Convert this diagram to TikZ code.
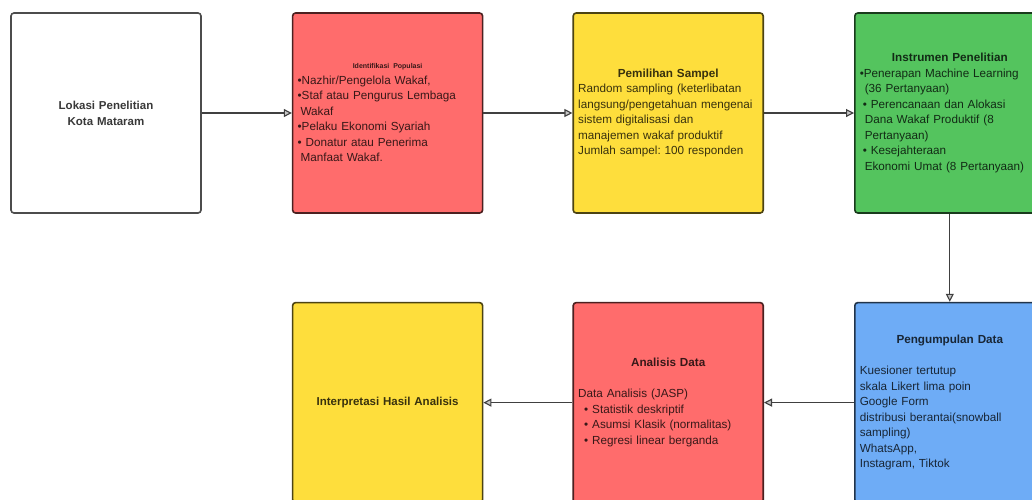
\documentclass[tikz,border=0pt]{standalone}
\usepackage{fontspec}
\setmainfont{Liberation Sans}
\usetikzlibrary{positioning,arrows.meta}

\definecolor{boxred}{RGB}{255,108,108}
\definecolor{boxyellow}{RGB}{254,222,60}
\definecolor{boxgreen}{RGB}{84,196,94}
\definecolor{boxblue}{RGB}{110,172,246}
\newcommand{\boxhead}[1]{\makebox[\linewidth]{\bfseries #1}}
\frenchspacing

\begin{document}
\begin{tikzpicture}[x=1pt,y=1pt,
  stage/.style={draw=#1!30!black,fill=#1,line width=1.6pt,rounded corners=3pt,
    minimum height=200pt,inner xsep=5pt,inner ysep=0pt,text width=180pt,
    align=left,text=#1!22!black,font=\fontsize{11.7}{15.5}\selectfont},
  flow/.style={draw=gray!50!black,line width=1.1pt,
    -{Triangle[open,length=8pt,width=8pt,fill=gray!45]}}]
  \fill[white] (0,0) rectangle (1032,-499);
  \useasboundingbox (0,0) rectangle (1032,-499);

  \node[stage=white,align=center,font=\fontsize{11.5}{16}\selectfont\bfseries]
    (lokasi) at (106,-113) {Lokasi Penelitian\\Kota Mataram};
  \node[stage=boxred,right=90pt of lokasi] (populasi)
    {\makebox[\linewidth]{\fontsize{7}{9}\selectfont\bfseries Identifikasi Populasi}\\
     •Nazhir/Pengelola Wakaf,\\
     •Staf atau Pengurus Lembaga\\
     \hspace*{3pt}Wakaf\\
     •Pelaku Ekonomi Syariah\\
     • Donatur atau Penerima\\
     \hspace*{3pt}Manfaat Wakaf.};
  \node[stage=boxyellow,right=89pt of populasi] (sampel)
    {\boxhead{Pemilihan Sampel}\\
     Random sampling (keterlibatan\\
     langsung/pengetahuan mengenai\\
     sistem digitalisasi dan\\
     manajemen wakaf produktif\\
     Jumlah sampel: 100 responden};
  \node[stage=boxgreen,right=90pt of sampel] (instrumen)
    {\boxhead{Instrumen Penelitian}\\
     •Penerapan Machine Learning\\
     \hspace*{5pt}(36 Pertanyaan)\\
     \hspace*{3pt}• Perencanaan dan Alokasi\\
     \hspace*{5pt}Dana Wakaf Produktif (8\\
     \hspace*{5pt}Pertanyaan)\\
     \hspace*{3pt}• Kesejahteraan\\
     \hspace*{5pt}Ekonomi Umat (8 Pertanyaan)};

  \node[stage=boxblue,below=88pt of instrumen] (pengumpulan)
    {\boxhead{Pengumpulan Data}\\[15.5pt]
     Kuesioner tertutup\\
     skala Likert lima poin\\
     Google Form\\
     distribusi berantai(snowball\\
     sampling)\\
     WhatsApp,\\
     Instagram, Tiktok};
  \node[stage=boxred,left=90pt of pengumpulan] (analisis)
    {\boxhead{Analisis Data}\\[15.5pt]
     Data Analisis (JASP)\\
     \hspace*{6pt}• Statistik deskriptif\\
     \hspace*{6pt}• Asumsi Klasik (normalitas)\\
     \hspace*{6pt}• Regresi linear berganda\\[14pt]};
  \node[stage=boxyellow,left=89pt of analisis,align=center,
    font=\fontsize{11.5}{15.5}\selectfont\bfseries] (interpretasi)
    {Interpretasi Hasil Analisis};

  \draw[flow] (lokasi) -- (populasi);
  \draw[flow] (populasi) -- (sampel);
  \draw[flow] (sampel) -- (instrumen);
  \draw[flow] (instrumen) -- (pengumpulan);
  \draw[flow] (pengumpulan) -- (analisis);
  \draw[flow] (analisis) -- (interpretasi);
\end{tikzpicture}
\end{document}
